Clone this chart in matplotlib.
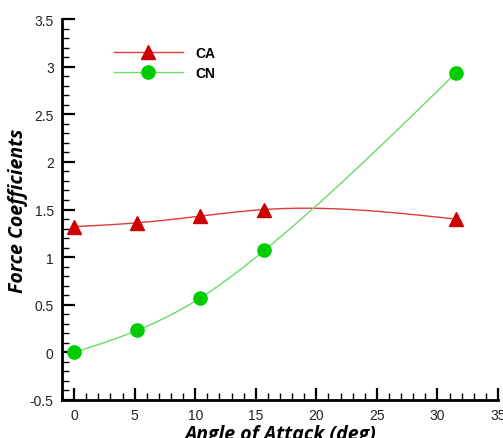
import matplotlib
matplotlib.use("Agg")
import matplotlib.pyplot as plt
from matplotlib.ticker import MultipleLocator
import numpy as np

# Angle of attack (deg) and force coefficients.
alpha = [0.0, 5.2, 10.4, 15.7, 31.5]
ca = [1.32, 1.36, 1.43, 1.50, 1.40]
cn = [0.00, 0.23, 0.57, 1.07, 2.93]


def natural_spline(x, y, n=200):
    # Natural cubic spline, only used to draw the smooth connecting line.
    x = np.asarray(x, float)
    y = np.asarray(y, float)
    h = np.diff(x)
    m = len(x)
    A = np.zeros((m, m))
    b = np.zeros(m)
    A[0, 0] = A[-1, -1] = 1.0
    for i in range(1, m - 1):
        A[i, i - 1] = h[i - 1]
        A[i, i] = 2 * (h[i - 1] + h[i])
        A[i, i + 1] = h[i]
        b[i] = 6 * ((y[i + 1] - y[i]) / h[i] - (y[i] - y[i - 1]) / h[i - 1])
    M = np.linalg.solve(A, b)
    xs = np.linspace(x[0], x[-1], n)
    k = np.clip(np.searchsorted(x, xs) - 1, 0, m - 2)
    t0 = x[k + 1] - xs
    t1 = xs - x[k]
    ys = (M[k] * t0**3 + M[k + 1] * t1**3) / (6 * h[k]) \
        + (y[k] / h[k] - M[k] * h[k] / 6) * t0 \
        + (y[k + 1] / h[k] - M[k + 1] * h[k] / 6) * t1
    return xs, ys


fig = plt.figure(figsize=(5.03, 4.39), dpi=100)
ax = fig.add_axes([0.1233, 0.0866, 0.8667, 0.8678])

red_line, red_mark = "#e03a3a", "#cc0000"
green_line, green_mark = "#66dd66", "#00cc00"

xs, ys = natural_spline(alpha, ca)
ax.plot(xs, ys, color=red_line, lw=1.0)
ax.plot(alpha, ca, ls="none", marker="^", ms=10, color=red_mark)
xs, ys = natural_spline(alpha, cn)
ax.plot(xs, ys, color=green_line, lw=1.0)
ax.plot(alpha, cn, ls="none", marker="o", ms=9.5, color=green_mark)

# legend drawn as proxy handles, frameless
h1, = ax.plot([], [], color=red_line, lw=1.0, marker="^", ms=10,
              mfc=red_mark, mec=red_mark)
h2, = ax.plot([], [], color=green_line, lw=1.0, marker="o", ms=9.5,
              mfc=green_mark, mec=green_mark)
leg = ax.legend([h1, h2], ["CA", "CN"], loc="upper left",
                bbox_to_anchor=(0.09, 0.962), frameon=False,
                handlelength=5.0, handletextpad=0.9, labelspacing=0.4,
                prop={"family": "Liberation Sans", "weight": "bold", "size": 10})

ax.set_xlim(-1, 35)
ax.set_ylim(-0.5, 3.5)
ax.xaxis.set_major_locator(MultipleLocator(5))
ax.xaxis.set_minor_locator(MultipleLocator(1))
ax.yaxis.set_major_locator(MultipleLocator(0.5))
ax.yaxis.set_minor_locator(MultipleLocator(0.1))
ax.set_yticks(np.arange(-0.5, 3.51, 0.5))
ax.set_yticklabels(["-0.5", "0", "0.5", "1", "1.5", "2", "2.5", "3", "3.5"])

for s in ["top", "right"]:
    ax.spines[s].set_visible(False)
for s in ["left", "bottom"]:
    ax.spines[s].set_linewidth(2.0)

ax.tick_params(which="major", direction="in", length=9, width=1.6,
               labelsize=10, labelcolor="#222222", pad=6)
ax.tick_params(which="minor", direction="in", length=5, width=1.0)
for lab in ax.get_xticklabels() + ax.get_yticklabels():
    lab.set_family("Liberation Sans")

ax.set_xlabel("Angle of Attack (deg)", fontsize=14, fontweight="bold",
              fontstyle="italic", family="Open Sans", labelpad=1)
ax.set_ylabel("Force Coefficients", fontsize=14, fontweight="bold",
              fontstyle="italic", family="Open Sans", labelpad=1)

fig.savefig("out.png", dpi=100)
